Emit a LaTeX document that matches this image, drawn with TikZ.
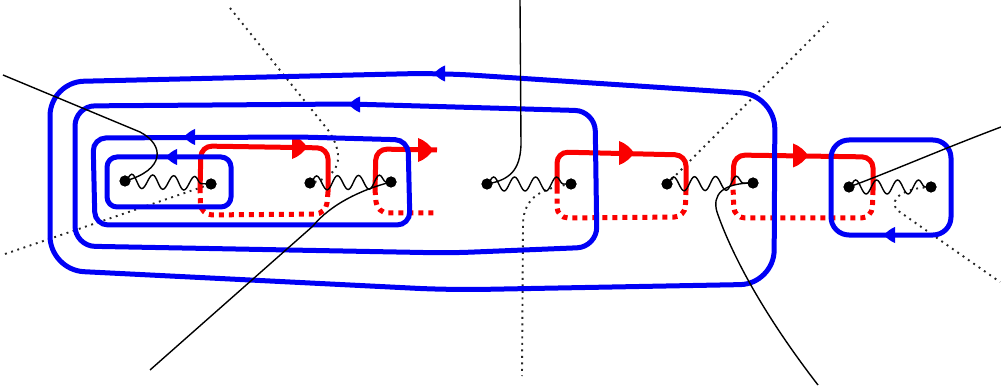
\documentclass[tikz,border=0pt]{standalone}
\usetikzlibrary{arrows.meta,decorations.pathmorphing}
\definecolor{lblue}{RGB}{0,0,245}
\definecolor{lred}{RGB}{250,0,0}
\tikzset{
  blueloop/.style={draw=lblue,line width=5pt},
  redsolid/.style={draw=lred,line width=5pt,rounded corners=11pt},
  reddot/.style={draw=lred,line width=5pt,dash pattern=on 5pt off 5pt,rounded corners=11pt},
  wavy/.style={draw=black,line width=1.4pt,decorate,decoration={snake,segment length=21pt,amplitude=7pt}},
  thinline/.style={draw=black,line width=1.4pt},
  dotline/.style={draw=black!85,line width=1.9pt,dash pattern=on 1.9pt off 4.6pt},
  blob/.style={circle,fill=black,inner sep=0pt,minimum size=11pt},
  redhead/.pic={\fill[lred] (-7,-12) .. controls (-1,-10) and (5,-5) .. (8,0) .. controls (5,5) and (-1,10) .. (-7,12) -- cycle;},
  bluehead/.pic={\fill[lblue] (5,-8) .. controls (1,-6.5) and (-3,-3.5) .. (-6,0) .. controls (-3,3.5) and (1,6.5) .. (5,8) -- cycle;}
}
\begin{document}
\begin{tikzpicture}[x=1pt,y=-1pt]
\useasboundingbox (0,0) rectangle (1001,390);
% dots
\node[blob] (a1) at (125,181) {};
\node[blob] (a2) at (211,184) {};
\node[blob] (b1) at (310,183) {};
\node[blob] (b2) at (391,182) {};
\node[blob] (c1) at (487,184) {};
\node[blob] (c2) at (571,184) {};
\node[blob] (d1) at (667,184) {};
\node[blob] (d2) at (753,183) {};
\node[blob] (e1) at (849,187) {};
\node[blob] (e2) at (931,187) {};
% dotted lines
\draw[dotline] (230,8) -- (328,130) .. controls (342,150) and (346,176) .. (b1.center);
\draw[dotline] (5,254) -- (a2.center);
\draw[dotline] (c2.center) .. controls (545,188) and (523,195) .. (523,225) -- (522,376);
\draw[dotline] (d1.center) -- (828,22);
\draw[dotline] (e2.center) .. controls (905,188) and (888,198) .. (897,210) -- (1000,282);
% red loops
\draw[redsolid] (200,192) -- (201,146) -- (328,148) -- (328,192);
\draw[reddot] (328,192) -- (326,214) -- (201,215) -- (200,192);
\draw[redsolid] (375,190) -- (376,149) -- (437,150);
\draw[reddot] (375,190) -- (377,213) -- (437,213);
\draw[redsolid] (557,190) -- (557,152) -- (686,155) -- (686,190);
\draw[reddot] (686,190) -- (685,217) -- (557,218) -- (557,190);
\draw[redsolid] (733,185) -- (734,155) -- (873,157) -- (873,190);
\draw[reddot] (873,190) -- (872,218) -- (734,218) -- (733,185);
\pic at (299,147) {redhead};
\pic at (425,150) {redhead};
\pic at (626,153) {redhead};
\pic at (800,155.5) {redhead};
% blue loops
\draw[blueloop,rounded corners=10pt] (107,157) rectangle (231,207);
\draw[blueloop,rounded corners=13pt] (93,138) -- (300,137) -- (408,140) -- (410,225) -- (95,225) -- cycle;
\draw[blueloop,rounded corners=20pt] (75,106) -- (350,104) -- (595,111) -- (597,247) -- (450,253) -- (75,246) -- cycle;
\draw[blueloop,rounded corners=34pt] (50,82) -- (440,73) -- (775,95) -- (774,284) -- (450,290) -- (50,270) -- cycle;
\draw[blueloop,rounded corners=18pt] (831,140) rectangle (951,235);
\pic at (172,157) {bluehead};
\pic at (190,137) {bluehead};
\pic at (355,104.5) {bluehead};
\pic at (440,73.5) {bluehead};
\pic at (890,235) {bluehead};
% wavy lines
\draw[wavy] (a1.center) -- (a2.center);
\draw[wavy] (b1.center) -- (b2.center);
\draw[wavy] (c1.center) -- (c2.center);
\draw[wavy] (d1.center) -- (d2.center);
\draw[wavy] (e1.center) -- (e2.center);
% black lines
\draw[thinline] (3,75) -- (140,132) .. controls (165,145) and (165,170) .. (a1.center);
\draw[thinline] (b2.center) .. controls (360,190) and (330,205) .. (313,226) -- (150,370);
\draw[thinline] (c1.center) .. controls (510,180) and (520,170) .. (521,145) -- (520,0);
\draw[thinline] (d2.center) .. controls (722,183) and (712,195) .. (717,212) .. controls (730,250) and (760,310) .. (818,385);
\draw[thinline] (e1.center) .. controls (890,172) and (940,150) .. (1001,127);
% dots on top
\foreach \n in {a1,a2,b1,b2,c1,c2,d1,d2,e1,e2} \fill (\n) circle (5.5pt);
\end{tikzpicture}
\end{document}
